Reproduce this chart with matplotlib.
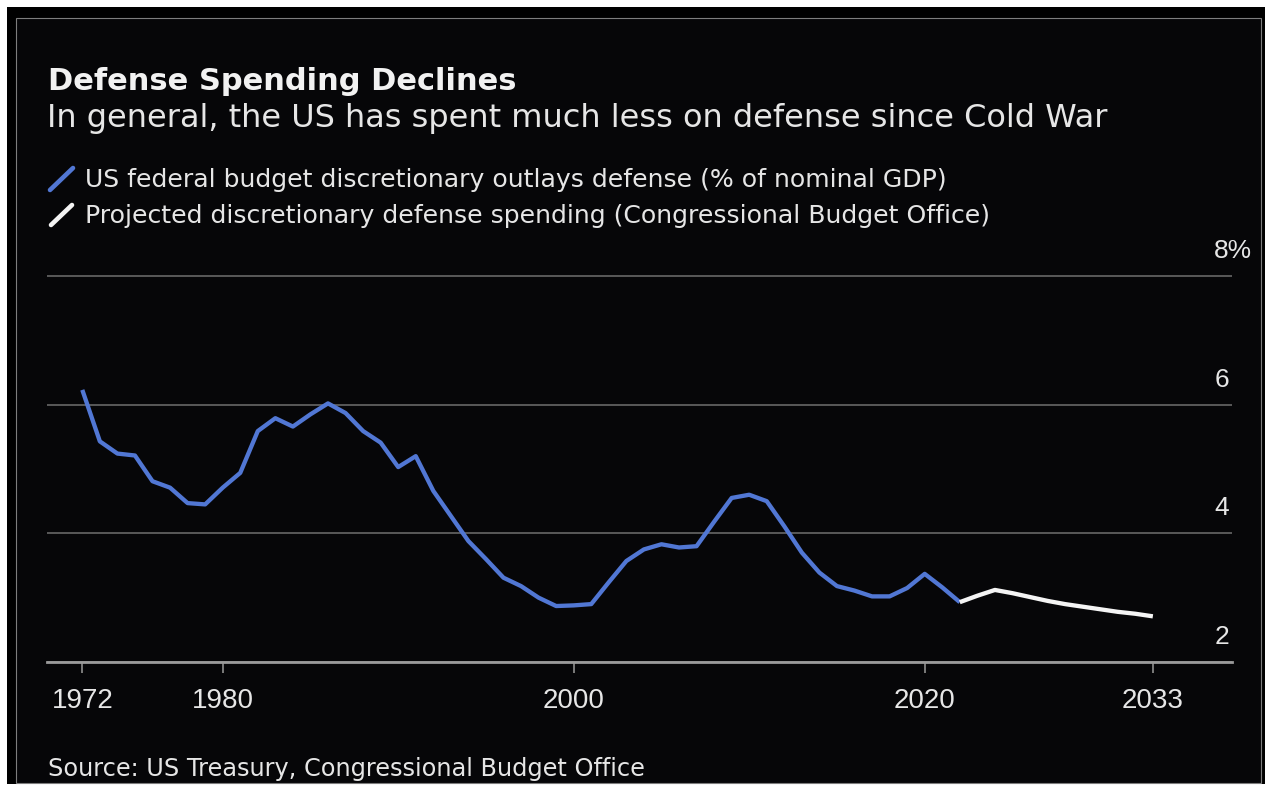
import matplotlib
matplotlib.use("Agg")
import matplotlib.pyplot as plt
from matplotlib.patches import Rectangle
from matplotlib.lines import Line2D
import matplotlib.transforms as mtransforms

# ---------------- data ----------------
hist_years = list(range(1972, 2023))
hist_values = [6.23, 5.43, 5.24, 5.21, 4.81, 4.71, 4.47, 4.45, 4.71, 4.94,
               5.59, 5.79, 5.66, 5.85, 6.02, 5.87, 5.59, 5.41, 5.03, 5.20,
               4.66, 4.27, 3.88, 3.60, 3.31, 3.18, 3.00, 2.87, 2.88, 2.90,
               3.24, 3.57, 3.75, 3.83, 3.78, 3.80, 4.18, 4.55, 4.60, 4.50,
               4.11, 3.70, 3.39, 3.18, 3.11, 3.02, 3.02, 3.15, 3.37, 3.16,
               2.93]
proj_years = list(range(2022, 2034))
proj_values = [2.93, 3.03, 3.12, 3.07, 3.01, 2.95, 2.90, 2.86, 2.82, 2.78,
               2.75, 2.71]
x_ticks = [1972, 1980, 2000, 2020, 2033]
x_tick_labels = ["1972", "1980", "2000", "2020", "2033"]
y_ticks = [2, 4, 6, 8]
y_tick_labels = ["2", "4", "6", "8%"]

title = "Defense Spending Declines"
subtitle = "In general, the US has spent much less on defense since Cold War"
legend_labels = ["US federal budget discretionary outlays defense (% of nominal GDP)",
                 "Projected discretionary defense spending (Congressional Budget Office)"]
source = "Source: US Treasury, Congressional Budget Office"

# ---------------- style ----------------
BLUE = "#5177d4"
WHITE_LINE = "#f4f4f4"
BG = "#060608"
GRID = "#6f6f6f"
AXIS = "#9a9a9a"
TXT = "#e6e6e6"

W, H = 1268, 788
def fx(x):
    return x / W
def fy(y):
    return 1 - y / H

fig = plt.figure(figsize=(W / 100, H / 100), dpi=100, facecolor="white")

# frame
fig.patches.append(Rectangle((fx(7), fy(784)), (1265 - 7) / W, (784 - 7) / H,
                             transform=fig.transFigure, facecolor="black",
                             edgecolor="none", zorder=-2))
fig.patches.append(Rectangle((fx(16), fy(783)), (1261 - 16) / W, (783 - 18) / H,
                             transform=fig.transFigure, facecolor=BG,
                             edgecolor="#7d7d7d", linewidth=0.8, zorder=-1))

# axes
ppy = 17.55   # pixels per year
ppv = 64.33   # pixels per percentage point
ax_left, ax_right = 47, 1232
ax_bottom = 662
ytop = 8.1
ax_top = ax_bottom - (ytop - 2) * ppv
ax = fig.add_axes([fx(ax_left), fy(ax_bottom), (ax_right - ax_left) / W,
                   (ax_bottom - ax_top) / H])
ax.set_zorder(5)
ax.set_facecolor("none")
x0 = 1972 - (82.3 - ax_left) / ppy
ax.set_xlim(x0, x0 + (ax_right - ax_left) / ppy)
ax.set_ylim(2, ytop)

for s in ["top", "right", "left"]:
    ax.spines[s].set_visible(False)
ax.spines["bottom"].set_color(AXIS)
ax.spines["bottom"].set_linewidth(2.0)

ax.set_yticks(y_ticks)
ax.tick_params(axis="y", left=False, labelleft=False)
ax.grid(axis="y", color=GRID, linewidth=1.1)
ax.set_axisbelow(True)

ax.set_xticks(x_ticks)
ax.set_xticklabels(x_tick_labels, family="Liberation Sans", fontsize=20, color=TXT)
ax.tick_params(axis="x", direction="out", length=8, width=1.1, color=AXIS, pad=11)

# y labels above gridlines
offs = mtransforms.ScaledTranslation(0, 18 / 100, fig.dpi_scale_trans)
ytrans = mtransforms.blended_transform_factory(ax.transAxes, ax.transData) + offs
for v, lab in zip(y_ticks, y_tick_labels):
    ax.text(0.985, v, lab, transform=ytrans, ha="left", va="baseline",
            family="Liberation Sans", fontsize=19, color=TXT, clip_on=False)

# lines
ax.plot(hist_years, hist_values, color=BLUE, linewidth=3.1, zorder=3,
        solid_capstyle="butt")
ax.plot(proj_years, proj_values, color=WHITE_LINE, linewidth=3.1, zorder=3,
        solid_capstyle="butt")

# titles
fig.text(fx(48), fy(90), title, family="DejaVu Sans", weight="bold",
         fontsize=22, color="#f2f2f2", va="baseline", ha="left")
fig.text(fx(47), fy(126.5), subtitle, family="DejaVu Sans",
         fontsize=23.0, color=TXT, va="baseline", ha="left")

# legend
fig.add_artist(Line2D([fx(50), fx(73)], [fy(190), fy(168)], color=BLUE,
                      linewidth=3.3, solid_capstyle="round",
                      transform=fig.transFigure))
fig.add_artist(Line2D([fx(51), fx(72)], [fy(225), fy(205)], color=WHITE_LINE,
                      linewidth=3.3, solid_capstyle="round",
                      transform=fig.transFigure))
fig.text(fx(85), fy(187), legend_labels[0], family="DejaVu Sans", fontsize=18.1,
         color=TXT, va="baseline", ha="left")
fig.text(fx(85), fy(223), legend_labels[1], family="DejaVu Sans", fontsize=18.1,
         color=TXT, va="baseline", ha="left")

# source
fig.text(fx(48), fy(776), source, family="DejaVu Sans", fontsize=17.3,
         color=TXT, va="baseline", ha="left")

fig.savefig("out.png", dpi=100, facecolor="white")
